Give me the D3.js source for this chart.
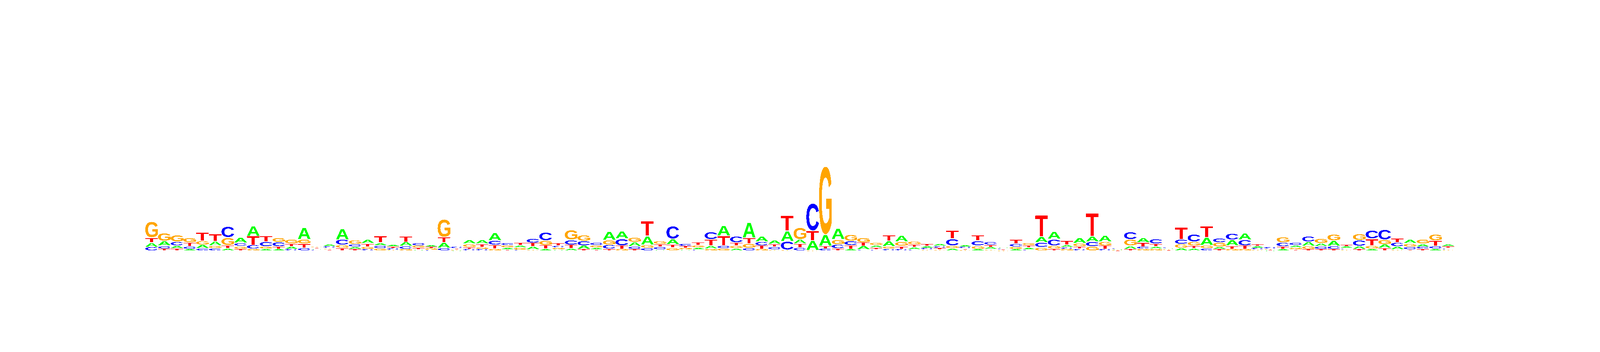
<!DOCTYPE html>
<html>
<head>
<meta charset="utf-8">
<script src="https://cdn.jsdelivr.net/npm/d3@7"></script>
<style>
    html, body { margin: 0; padding: 0; background: #fff; overflow: hidden; width: 100vw; height: 100vh; }
    svg { display: block; width: 100vw; height: 100vh; }
</style>
</head>
<body>
<div id="logo"></div>
<script>
// Letter heights per position (1 unit = 1/3 px)
const A = [34,36,23,12,27,34,18,39,81,15,
    12,20,93,8,17,82,18,30,23,15,
    31,9,15,41,2,30,28,61,14,19,
    24,15,9,17,27,15,69,57,33,69,
    9,41,9,15,25,78,18,117,42,27,
    81,32,75,87,84,12,27,19,41,48,
    19,14,18,18,13,12,16,11,12,15,
    45,57,18,42,42,48,5,26,35,18,
    8,20,18,61,18,46,51,15,2,12,
    18,33,24,41,13,24,14,27,25,28,
    23,14,16];
const C = [28,23,29,21,18,18,86,25,28,36,
    33,13,21,7,12,40,21,13,22,12,
    24,21,6,21,15,12,12,33,18,7,
    33,63,15,39,36,20,30,54,21,21,
    21,99,17,10,56,21,48,21,30,21,
    68,24,213,16,30,33,9,10,15,12,
    9,12,15,54,12,39,27,9,25,9,
    36,51,14,14,36,12,7,58,16,36,
    9,36,57,17,34,51,45,13,13,30,
    21,42,21,24,11,45,63,82,30,20,
    16,22,11];
const G = [123,62,54,36,30,21,58,23,14,18,
    34,34,34,10,11,24,30,17,18,7,
    12,16,12,139,7,27,15,15,17,16,
    8,36,14,78,45,18,36,12,38,24,
    27,23,12,17,14,18,21,33,12,9,
    4,91,3,523,39,51,39,20,18,34,
    24,9,9,21,6,27,11,2,17,19,
    27,24,12,24,33,30,4,48,14,15,
    7,30,30,24,32,12,12,8,7,42,
    15,24,36,49,9,48,25,36,8,27,
    34,48,9];
const T = [38,16,17,29,66,56,24,12,70,45,
    21,21,32,9,10,20,12,26,51,14,
    44,15,12,42,10,15,26,29,10,21,
    27,27,22,28,12,9,15,27,12,114,
    21,26,16,24,48,75,24,45,27,21,
    117,30,75,20,18,30,27,14,43,23,
    20,19,12,63,11,42,18,8,33,17,
    165,15,31,19,180,27,3,12,34,21,
    4,94,21,87,12,26,27,15,5,21,
    9,12,12,12,15,12,54,20,33,9,
    14,42,14];

const letters = ["A", "C", "G", "T"];
const letterValues = [A, C, G, T];
const colors = ["#00ff00", "#0000ff", "#ffa500", "#ff0000"];

// Drawing space of the reference; the viewBox fits it to whatever window we get
const width = 4800, height = 900;
const fontFamily = "Liberation Sans";
const gap = 2; // white space between stacked letters

const x = d3.scaleBand()
    .domain(d3.range(A.length))
    .range([435.9, 4364])
    .padding(0);

const y = d3.scaleLinear()
    .domain([0, 600])
    .range([641, 441]);

const color = d3.scaleOrdinal().domain(letters).range(colors);

// Ink box of each letter, so it can be stretched to exactly fill its slot
const ctx = document.createElement("canvas").getContext("2d");
ctx.font = `bold 100px "${fontFamily}"`;
const ink = {};
letters.forEach(l => {
    const m = ctx.measureText(l);
    ink[l] = {
        left: -m.actualBoundingBoxLeft,
        w: m.actualBoundingBoxLeft + m.actualBoundingBoxRight,
        ascent: m.actualBoundingBoxAscent,
        h: m.actualBoundingBoxAscent + m.actualBoundingBoxDescent
    };
});

// Stack each position, smallest letter at the bottom
const stacked = [];
A.forEach((_, i) => {
    const row = letters.map((l, j) => ({ letter: l, value: letterValues[j][i] }))
        .sort((a, b) => a.value - b.value);
    let sum = 0;
    row.forEach(d => {
        stacked.push({ pos: i, letter: d.letter, y0: sum, y1: sum + d.value });
        sum += d.value;
    });
});

const svg = d3.select("#logo")
    .append("svg")
    .attr("viewBox", `0 0 ${width} ${height}`)
    .attr("preserveAspectRatio", "none");

// Hard edged letters like the original bitmap
const filter = svg.append("defs").append("filter")
    .attr("id", "hard")
    .attr("filterUnits", "userSpaceOnUse")
    .attr("x", 0).attr("y", 0)
    .attr("width", width).attr("height", height)
    .attr("color-interpolation-filters", "sRGB");
filter.append("feComponentTransfer")
    .append("feFuncA")
    .attr("type", "discrete")
    .attr("tableValues", "0 1");

svg.append("g")
    .attr("filter", "url(#hard)")
    .selectAll("text")
    .data(stacked)
    .enter().append("text")
    .attr("font-family", fontFamily)
    .attr("font-weight", "bold")
    .attr("font-size", 100)
    .attr("fill", d => color(d.letter))
    .attr("transform", d => {
        const box = ink[d.letter];
        const top = y(d.y1) + gap / 2;
        const h = Math.max(y(d.y0) - y(d.y1) - gap, 0.6);
        const sx = x.bandwidth() / box.w;
        const sy = h / box.h;
        return `translate(${x(d.pos) - box.left * sx},${top + box.ascent * sy}) scale(${sx},${sy})`;
    })
    .text(d => d.letter);
</script>
</body>
</html>
